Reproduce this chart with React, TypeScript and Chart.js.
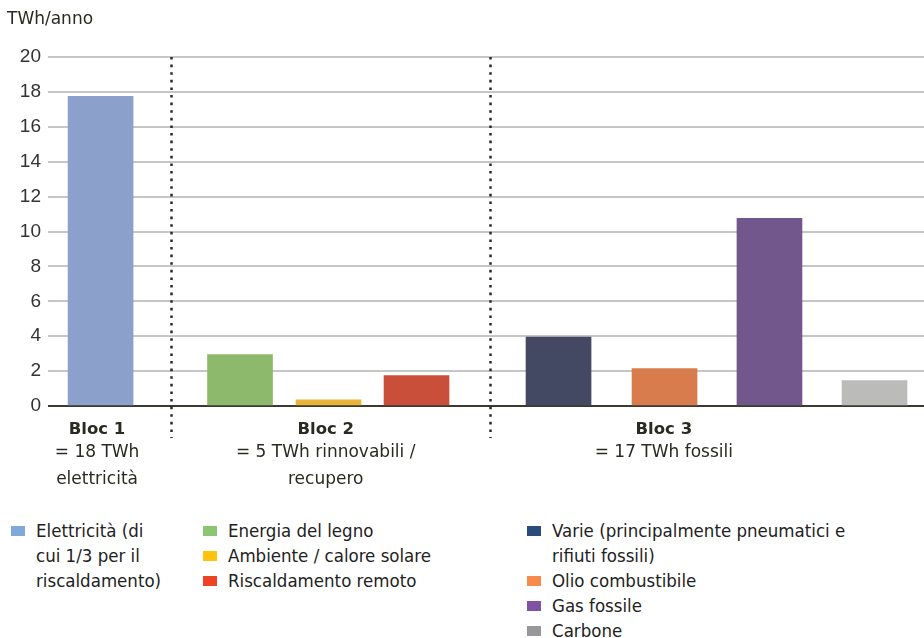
import React, { useEffect, useRef } from "react";
import { Chart, registerables } from "chart.js";

Chart.register(...registerables);

// ---- data ----
const seriesNames = [
  "Elettricità (di\ncui 1/3 per il\nriscaldamento)",
  "Energia del legno",
  "Ambiente / calore solare",
  "Riscaldamento remoto",
  "Varie (principalmente pneumatici e\nrifiuti fossili)",
  "Olio combustibile",
  "Gas fossile",
  "Carbone",
];
const seriesValues = [17.75, 2.95, 0.35, 1.75, 3.95, 2.15, 10.75, 1.45];
const blocTitles = ["Bloc 1", "Bloc 2", "Bloc 3"];
const blocSubtitles = [
  ["= 18 TWh", "elettricità"],
  ["= 5 TWh rinnovabili /", "recupero"],
  ["= 17 TWh fossili"],
];
const yTicks = [0, 2, 4, 6, 8, 10, 12, 14, 16, 18, 20];
const unitLabel = "TWh/anno";

// ---- layout (not data) ----
const barSlots = [6.0, 21.92, 32.02, 42.07, 58.28, 70.38, 82.36, 94.35];
const separatorSlots = [14.04, 50.46];
const blocCenters = [5.6, 31.7, 70.3];
const barColors = ["#8BA0CB", "#8CB96C", "#E9B43C", "#C94F3A", "#434863", "#D87C4E", "#72578D", "#BBBBBA"];
const legendColors = ["#7FA9DA", "#8BC670", "#FFC20F", "#EE4224", "#2B4B7B", "#F68B4C", "#7F53A1", "#98989A"];

const TEXT = "#2b2a22";
const LABEL_FONT = "'DejaVu Sans', sans-serif";

const overlayPlugin = {
  id: "overlay",
  afterDraw(chart: any) {
    const { ctx, chartArea } = chart;
    const xs = chart.scales.x;
    ctx.save();
    ctx.strokeStyle = TEXT;
    ctx.lineWidth = 2.5;
    ctx.setLineDash([2.6, 5]);
    separatorSlots.forEach((s) => {
      const x = Math.round(xs.getPixelForValue(s)) + 0.5;
      ctx.beginPath();
      ctx.moveTo(x, chartArea.top);
      ctx.lineTo(x, chartArea.bottom + 32);
      ctx.stroke();
    });
    ctx.setLineDash([]);
    ctx.fillStyle = TEXT;
    ctx.textAlign = "center";
    ctx.textBaseline = "middle";
    blocTitles.forEach((t, i) => {
      const x = xs.getPixelForValue(blocCenters[i]);
      const y0 = chartArea.bottom + 24;
      ctx.font = `bold 16.5px ${LABEL_FONT}`;
      ctx.fillText(t, x, y0);
      ctx.font = `17px ${LABEL_FONT}`;
      blocSubtitles[i].forEach((line, j) => {
        ctx.fillText(line, x, y0 + 23 + j * 27);
      });
    });
    ctx.textAlign = "left";
    ctx.font = `17px ${LABEL_FONT}`;
    ctx.fillText(unitLabel, 7, 20);
    ctx.restore();
  },
};

function BarChart() {
  const ref = useRef<HTMLCanvasElement>(null);
  useEffect(() => {
    if (!ref.current) return;
    const chart = new Chart(ref.current, {
      type: "bar",
      data: {
        datasets: [
          {
            label: "TWh/anno",
            data: seriesValues.map((v, i) => ({ x: barSlots[i], y: v })),
            backgroundColor: barColors,
            borderWidth: 0,
            barThickness: 65,
          },
        ],
      },
      options: {
        responsive: false,
        animation: false,
        devicePixelRatio: 1,
        layout: { padding: { top: 57, bottom: 94, left: 0, right: 0 } },
        plugins: { legend: { display: false }, tooltip: { enabled: false }, title: { display: false } },
        scales: {
          x: { type: "linear", min: 0, max: 100, display: false, offset: false, grid: { offset: false } },
          y: {
            min: 0,
            max: 20,
            afterBuildTicks: (scale: any) => {
              scale.ticks = yTicks.map((v) => ({ value: v }));
            },
            afterFit: (scale: any) => {
              scale.width = 48;
            },
            border: { display: false },
            grid: {
              drawTicks: false,
              color: (c: any) => (c.tick && c.tick.value === 0 ? "#3b3a2e" : "#c6c6c6"),
              lineWidth: 2,
            },
            ticks: {
              padding: 7,
              color: "#333",
              font: { family: "'Liberation Sans', Arial, sans-serif", size: 19 },
            },
          },
        },
      },
      plugins: [overlayPlugin],
    });
    return () => chart.destroy();
  }, []);
  return <canvas ref={ref} width={924} height={500} style={{ display: "block", width: 924, height: 500 }} />;
}

const legendCols: { left: number; textLeft: number; items: number[] }[] = [
  { left: 11, textLeft: 36, items: [0] },
  { left: 203, textLeft: 228, items: [1, 2, 3] },
  { left: 527, textLeft: 552, items: [4, 5, 6, 7] },
];

export default function App() {
  return (
    <div style={{ position: "absolute", left: 0, top: 0, width: 924, height: 638, background: "#fff", overflow: "hidden" }}>
      <BarChart />
      {legendCols.map((col, ci) => (
        <div key={ci} style={{ position: "absolute", left: col.left, top: 518 }}>
          {col.items.map((idx) => (
            <div
              key={idx}
              style={{
                position: "relative",
                paddingLeft: col.textLeft - col.left,
                font: "18.5px 'DejaVu Sans Condensed', sans-serif",
                lineHeight: "25px",
                color: "#222",
                whiteSpace: "pre",
              }}
            >
              <span style={{ position: "absolute", left: 0, top: 8, width: 14, height: 10, background: legendColors[idx] }} />
              {seriesNames[idx]}
            </div>
          ))}
        </div>
      ))}
    </div>
  );
}
